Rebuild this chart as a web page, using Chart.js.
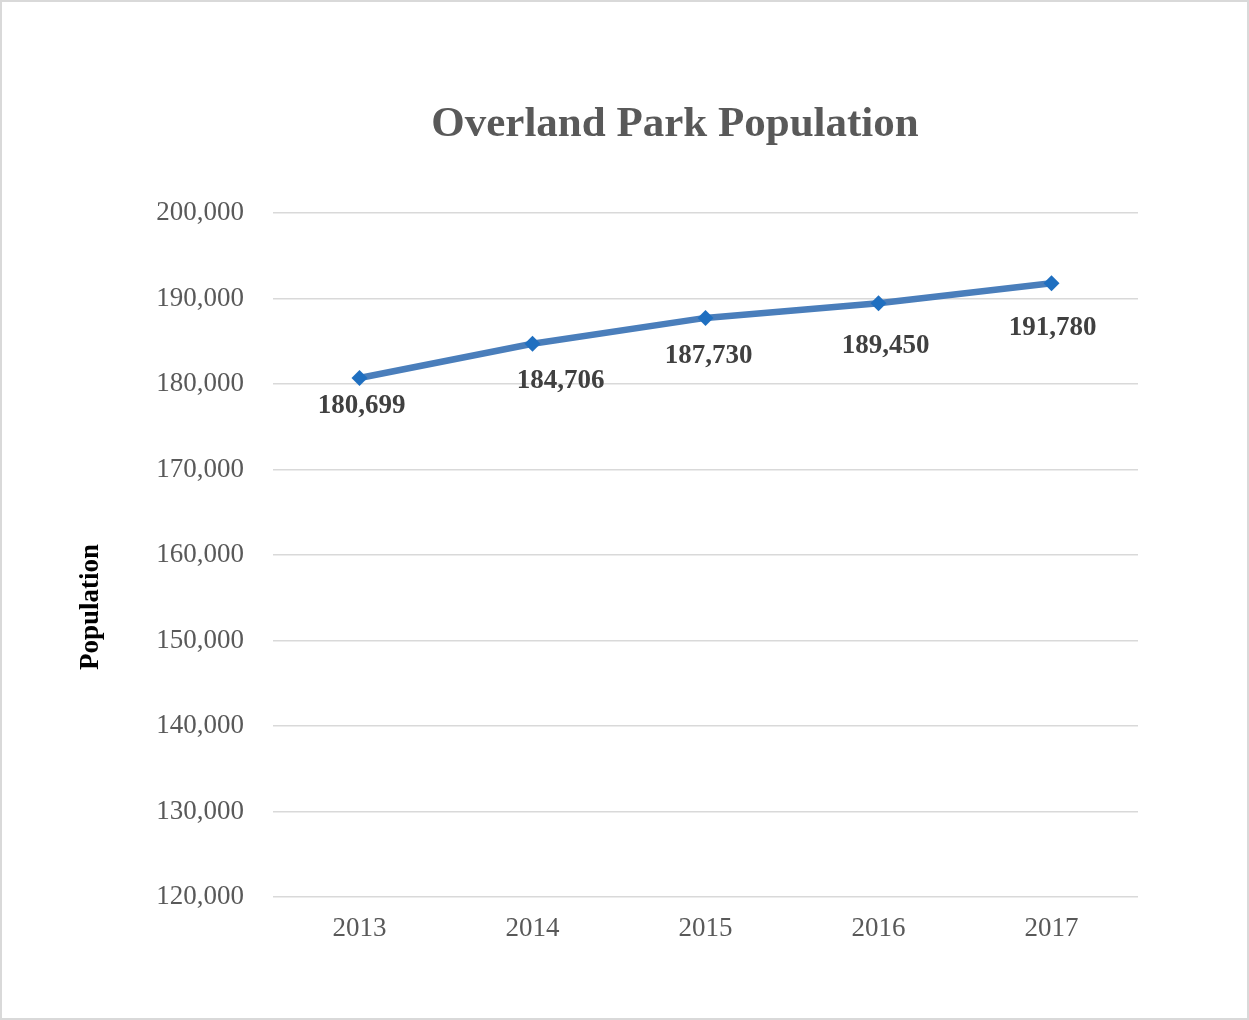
<!DOCTYPE html>
<html>
<head>
<meta charset="utf-8">
<title>Overland Park Population</title>
<script src="https://cdn.jsdelivr.net/npm/chart.js@4.4.1/dist/chart.umd.min.js"></script>
<style>
    html, body { margin: 0; padding: 0; background: #fff; }
    canvas { display: block; }
</style>
</head>
<body>
<canvas id="popChart" width="1249" height="1020"></canvas>
<script>
// Chart data
const years = ['2013', '2014', '2015', '2016', '2017'];
const population = [180699, 184706, 187730, 189450, 191780];
const yTicks = [120000, 130000, 140000, 150000, 160000, 170000, 180000, 190000, 200000];

// Excel-like label placement (offset from each point)
const labelDx = [2, 28, 3, 7, 1];
const labelDy = [35, 44, 45, 50, 52];

const SERIF = '"Liberation Serif", "Times New Roman", serif';
const fmt = v => v.toLocaleString('en-US');

// Draws frame, title, axis title and data labels
const decorPlugin = {
    id: 'decor',
    beforeDraw(chart) {
        const ctx = chart.ctx;
        ctx.save();
        ctx.fillStyle = '#fff';
        ctx.fillRect(0, 0, chart.width, chart.height);
        ctx.strokeStyle = '#d9d9d9';
        ctx.lineWidth = 2;
        ctx.strokeRect(1, 1, chart.width - 2, chart.height - 2);
        ctx.restore();
    },
    afterDatasetsDraw(chart) {
        const ctx = chart.ctx;
        const meta = chart.getDatasetMeta(0);
        ctx.save();

        // chart title
        ctx.fillStyle = '#595959';
        ctx.font = 'bold 43px ' + SERIF;
        ctx.textAlign = 'center';
        ctx.textBaseline = 'alphabetic';
        ctx.fillText('Overland Park Population', 675, 136);

        // y axis title
        ctx.save();
        ctx.translate(98, 607);
        ctx.rotate(-Math.PI / 2);
        ctx.fillStyle = '#000';
        ctx.font = 'bold 27px ' + SERIF;
        ctx.fillText('Population', 0, 0);
        ctx.restore();

        // data labels
        ctx.fillStyle = '#404040';
        ctx.font = 'bold 27px ' + SERIF;
        meta.data.forEach((pt, i) => {
            ctx.fillText(fmt(population[i]), pt.x + labelDx[i], pt.y + labelDy[i]);
        });
        ctx.restore();
    }
};

const ctx = document.getElementById('popChart').getContext('2d');
new Chart(ctx, {
    type: 'line',
    data: {
        labels: years,
        datasets: [{
            label: 'Population',
            data: population,
            borderColor: '#4a7ebb',
            borderWidth: 6.5,
            pointStyle: 'rectRot',
            pointRadius: 8,
            pointBackgroundColor: '#1f6fc0',
            pointBorderColor: '#1f6fc0',
            pointBorderWidth: 0,
            tension: 0
        }]
    },
    options: {
        responsive: false,
        animation: false,
        devicePixelRatio: 1,
        layout: { padding: { top: 213, right: 111, bottom: 0, left: 0 } },
        plugins: {
            legend: { display: false },
            title: { display: false },
            tooltip: { enabled: false }
        },
        scales: {
            x: {
                offset: true,
                grid: { display: false, drawTicks: false },
                border: { display: false },
                ticks: {
                    color: '#595959',
                    font: { family: SERIF, size: 27 },
                    padding: 16
                },
                afterFit: s => { s.height = 123; }
            },
            y: {
                min: 120000,
                max: 200000,
                afterBuildTicks: s => { s.ticks = yTicks.map(v => ({ value: v })); },
                grid: { color: '#d9d9d9', lineWidth: 1.5, drawTicks: false },
                border: { display: false },
                ticks: {
                    color: '#595959',
                    font: { family: SERIF, size: 27 },
                    padding: 29,
                    callback: v => fmt(v)
                },
                afterFit: s => { s.width = 273; }
            }
        }
    },
    plugins: [decorPlugin]
});
</script>
</body>
</html>
